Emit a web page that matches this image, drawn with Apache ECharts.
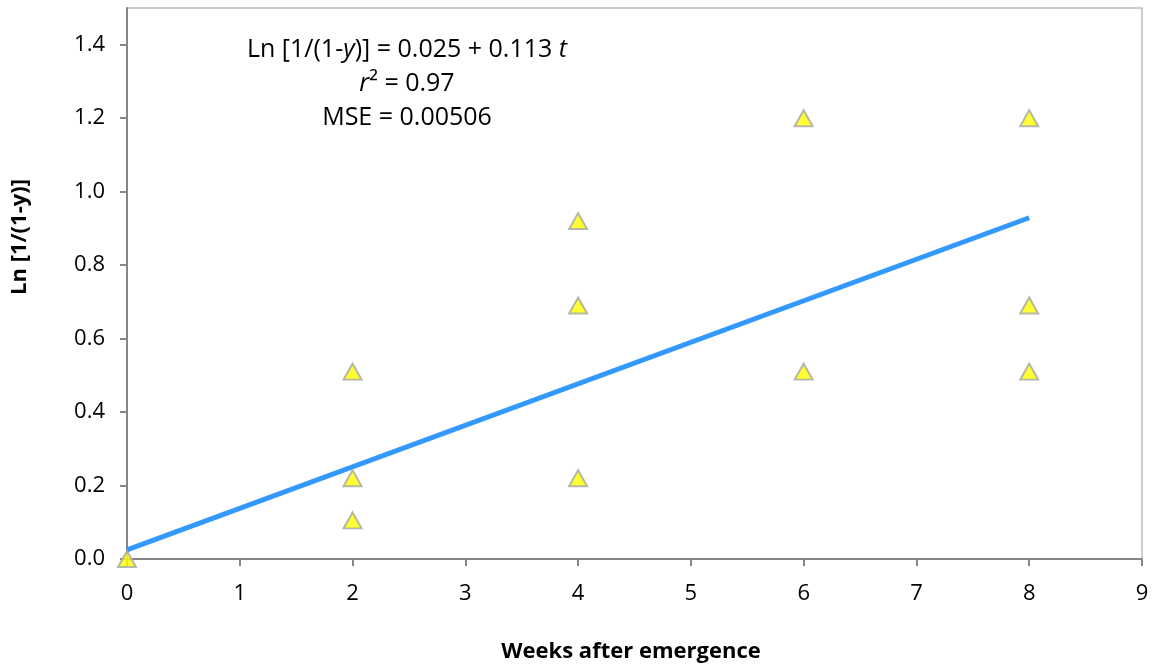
<!DOCTYPE html>
<html>
<head>
<meta charset="utf-8">
<script src="https://cdn.jsdelivr.net/npm/echarts@6/dist/echarts.min.js"></script>
<style>
  html, body { margin: 0; padding: 0; background: #fff; }
  #chart { width: 1156px; height: 668px; }
</style>
</head>
<body>
<div id="chart"></div>
<script>
// observed points (weeks, Ln[1/(1-y)])
const weeks = [0, 2, 2, 2, 4, 4, 4, 6, 6, 8, 8, 8]
const lnValues = [0.0, 0.51, 0.22, 0.105, 0.92, 0.69, 0.22, 1.2, 0.51, 1.2, 0.69, 0.51]
// fitted line ends
const fitWeeks = [0, 8]
const fitValues = [0.025, 0.929]
// tick labels on the y axis
const yTicks = [0, 0.2, 0.4, 0.6, 0.8, 1.0, 1.2, 1.4]

const font = '"Open Sans", "Liberation Sans", sans-serif'
const chart = echarts.init(document.getElementById('chart'))

const eqRich = {
  n: { fontSize: 25, fontFamily: font, fill: '#000' },
  i: { fontSize: 25, fontFamily: font, fontStyle: 'italic', fill: '#000' }
}
// one text element per line of the equation box
const eqText = (text, y) => ({
  type: 'text', z: 10,
  style: { x: 407, y: y, align: 'center', verticalAlign: 'middle', text: text, rich: eqRich }
})

const option = {
  animation: false,
  backgroundColor: '#fff',
  grid: { left: 127, right: 14, top: 8, bottom: 109, show: true, borderColor: '#BFBFBF', borderWidth: 1.5 },
  xAxis: {
    type: 'value', min: 0, max: 9, interval: 1,
    axisLine: { onZero: false, lineStyle: { color: '#868686', width: 2 } },
    axisTick: { show: true, length: 7, lineStyle: { color: '#868686', width: 2 } },
    splitLine: { show: false },
    axisLabel: { color: '#000', fontSize: 22, fontFamily: font, margin: 24 }
  },
  yAxis: {
    type: 'value', min: 0, max: 1.5,
    axisLine: { show: true, lineStyle: { color: '#868686', width: 2 } },
    axisTick: { show: true, length: 7, customValues: yTicks, lineStyle: { color: '#868686', width: 2 } },
    splitLine: { show: false },
    axisLabel: {
      color: '#000', fontSize: 22, fontFamily: font, margin: 22,
      customValues: yTicks,
      formatter: v => v.toFixed(1)
    }
  },
  graphic: [
    eqText('{n|Ln [1/(1-}{i|y}{n|)] = 0.025 + 0.113 }{i|t}', 50),
    eqText('{i|r}{n|² = 0.97}', 84),
    eqText('{n|MSE = 0.00506}', 118),
    {
      type: 'text',
      style: { x: 631, y: 652, text: 'Weeks after emergence', align: 'center', verticalAlign: 'middle', fontSize: 22, fontWeight: 'bold', fontFamily: font, fill: '#000' }
    },
    {
      type: 'text', x: 20, y: 237, rotation: Math.PI / 2,
      style: { x: 0, y: 0, text: 'Ln [1/(1-y)]', align: 'center', verticalAlign: 'middle', fontSize: 22, fontWeight: 'bold', fontFamily: font, fill: '#000' }
    }
  ],
  series: [
    {
      type: 'line',
      data: fitWeeks.map((w, i) => [w, fitValues[i]]),
      showSymbol: false,
      lineStyle: { color: '#3399FF', width: 5 },
      z: 2
    },
    {
      type: 'scatter',
      data: weeks.map((w, i) => [w, lnValues[i]]),
      symbol: 'triangle',
      symbolSize: [18, 16],
      itemStyle: { color: '#FFFF00', borderColor: '#A6A6A6', borderWidth: 2 },
      z: 3
    }
  ]
}
chart.setOption(option)
</script>
</body>
</html>
